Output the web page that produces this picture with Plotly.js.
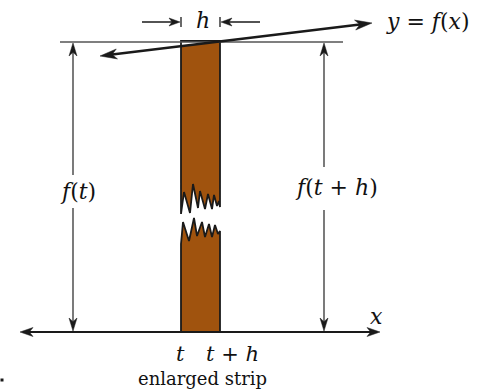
<!DOCTYPE html>
<html><head><meta charset="utf-8">
<script src="https://cdn.plot.ly/plotly-3.0.1.min.js"></script>
<style>html,body{margin:0;padding:0;background:#fff;}#chart{width:488px;height:390px;}</style>
</head><body><div id="chart"></div>
<script>
// ---- diagram values (drawing units, y grows downward) ----
const stripX = [181, 220];          // t, t+h
const stripTop = 41;
const baseY = 332;                  // x axis level
const fillTopY = [46, 41];          // curve height over strip edges
const upperZigX = [181,184,190,193,198,200,205,208,212,214,217,219,220];
const upperZigY = [214,192,213,184,208,191,209,194,209,195,206,201,207];
const lowerZigX = [181,183,189,194,197,202,205,209,212,215,218,220];
const lowerZigY = [244,222,241,218,236,222,237,224,237,225,234,231];
const axisX = [20, 380];
const tangentX = [100, 372];
const tangentY = [56, 23];
const refLineX = [60, 343];
const refLineY = 42;
const leftArrowX = 73,  leftGap = [175, 208];
const rightArrowX = 324, rightGap = [167, 210];
const hArrowY = 22, hLeftTail = 142, hRightTail = 260;
const labels = [
  {t:'<i>h</i>', x:203, y:20, s:22},
  {t:'<i>y</i> = <i>f</i>(<i>x</i>)', x:428, y:21, s:22},
  {t:'<i>f</i>(<i>t</i>)', x:78, y:191, s:22},
  {t:'<i>f</i>(<i>t</i> + <i>h</i>)', x:336, y:187, s:22},
  {t:'<i>x</i>', x:376, y:316, s:22},
  {t:'<i>t</i>', x:180, y:354, s:21},
  {t:'<i>t</i> + <i>h</i>', x:232, y:354, s:21},
  {t:'enlarged strip', x:202, y:378, s:18}
];

const INK = '#1a1a1a';
const FONT = 'DejaVu Serif';
const shapes = [];
function line(x0,y0,x1,y1,w,c){shapes.push({type:'line',xref:'x',yref:'y',x0,y0,x1,y1,line:{color:c||INK,width:w}});}
function head(tx,ty,fx,fy,len,hw){
  const dx=tx-fx, dy=ty-fy, L=Math.hypot(dx,dy), ux=dx/L, uy=dy/L, px=-uy, py=ux;
  const bx=tx-ux*len, by=ty-uy*len, nx=tx-ux*len*0.72, ny=ty-uy*len*0.72;
  const p=`M${tx},${ty} L${bx+px*hw},${by+py*hw} L${nx},${ny} L${bx-px*hw},${by-py*hw} Z`;
  shapes.push({type:'path',xref:'x',yref:'y',path:p,fillcolor:INK,line:{color:INK,width:0.5}});
}
line(axisX[0]+6,baseY,axisX[1]-6,baseY,1.8);
head(axisX[0],baseY,axisX[1],baseY,13,4.5);
head(axisX[1],baseY,axisX[0],baseY,13,4.5);
line(refLineX[0],refLineY,refLineX[1],refLineY,1.3,'#555');
line(tangentX[0]+8,tangentY[0]-1,tangentX[1]-8,tangentY[1]+1,2.6);
head(tangentX[0],tangentY[0],tangentX[1],tangentY[1],17,5);
head(tangentX[1],tangentY[1],tangentX[0],tangentY[0],17,5);
line(leftArrowX,refLineY+6,leftArrowX,leftGap[0],1.3,'#333');
line(leftArrowX,leftGap[1],leftArrowX,baseY-6,1.3,'#333');
head(leftArrowX,refLineY+1,leftArrowX,baseY,13,4);
head(leftArrowX,baseY-1,leftArrowX,refLineY,13,4);
line(rightArrowX,refLineY+6,rightArrowX,rightGap[0],1.3,'#333');
line(rightArrowX,rightGap[1],rightArrowX,baseY-6,1.3,'#333');
head(rightArrowX,refLineY+1,rightArrowX,baseY,13,4);
head(rightArrowX,baseY-1,rightArrowX,refLineY,13,4);
line(hLeftTail,hArrowY,stripX[0]-4,hArrowY,1.3);
head(stripX[0]-1,hArrowY,hLeftTail,hArrowY,11,4);
line(stripX[0],hArrowY-5,stripX[0],hArrowY+5,1.3);
line(hRightTail,hArrowY,stripX[1]+4,hArrowY,1.3);
head(stripX[1]+1,hArrowY,hRightTail,hArrowY,11,4);
line(stripX[1],hArrowY-5,stripX[1],hArrowY+5,1.3);

const BROWN = '#A0530E';
const traces = [
  {x:[stripX[0],stripX[1]].concat(upperZigX.slice().reverse()),
   y:[fillTopY[0],fillTopY[1]].concat(upperZigY.slice().reverse()),
   mode:'lines',fill:'toself',fillcolor:BROWN,line:{width:0},hoverinfo:'skip'},
  {x:upperZigX.concat([stripX[1],stripX[1],stripX[0],stripX[0]]),
   y:upperZigY.concat([upperZigY[upperZigY.length-1],stripTop,stripTop,upperZigY[0]]),
   mode:'lines',line:{color:INK,width:1.8},hoverinfo:'skip'},
  {x:lowerZigX.concat([stripX[1],stripX[0]]),
   y:lowerZigY.concat([baseY,baseY]),
   mode:'lines',fill:'toself',fillcolor:BROWN,line:{width:0},hoverinfo:'skip'},
  {x:[stripX[0]].concat(lowerZigX).concat([stripX[1]]),
   y:[baseY].concat(lowerZigY).concat([baseY]),
   mode:'lines',line:{color:INK,width:1.8},hoverinfo:'skip'},
  {x:[2],y:[380],mode:'markers',marker:{symbol:'square',size:3,color:INK},hoverinfo:'skip'}
];

const annotations = labels.map(l=>({x:l.x,y:l.y,xref:'x',yref:'y',text:l.t,showarrow:false,
  font:{family:FONT,size:l.s,color:'#111'},xanchor:'center',yanchor:'middle'}));

Plotly.newPlot('chart',traces,{
  width:488,height:390,margin:{l:0,r:0,t:0,b:0},
  paper_bgcolor:'#fff',plot_bgcolor:'#fff',showlegend:false,
  font:{family:FONT},
  xaxis:{range:[0,488],visible:false,fixedrange:true},
  yaxis:{range:[390,0],visible:false,fixedrange:true},
  shapes:shapes,annotations:annotations
},{staticPlot:true});
</script></body></html>
